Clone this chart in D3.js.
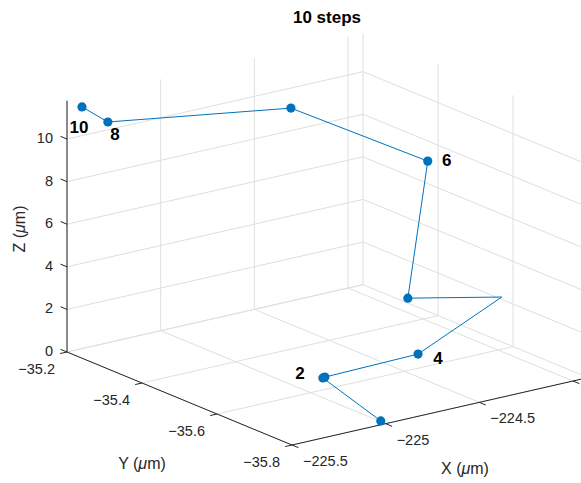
<!DOCTYPE html>
<html>
<head>
<meta charset="utf-8">
<script src="https://cdn.jsdelivr.net/npm/d3@7"></script>
<style>
  body { margin: 0; background: #fff; }
  text { font-family: "Liberation Sans", Arial, Helvetica, sans-serif; }
</style>
</head>
<body>
<svg id="chart" width="581" height="483"></svg>
<script>
// axis ticks
const xTicks = [-225.5, -225, -224.5, -224];
const yTicks = [-35.2, -35.4, -35.6, -35.8];
const zTicks = [0, 2, 4, 6, 8, 10];

// trajectory vertices (um), in drawing order
const pathX = [-224.994, -225.013, -225.016, -224.575, -224.078, -224.233, -224.265, -224.649, -225.448, -225.5];
const pathY = [-35.784, -35.639, -35.646, -35.674, -35.649, -35.476, -35.545, -35.372, -35.283, -35.24];
const pathZ = [0, 1.0, 1.1, 1.5, 3.0, 2.0, 9.0, 11.0, 11.3, 11.8];

// which vertices carry a marker, and which get a step label
const markerIdx = [0, 1, 2, 3, 5, 6, 7, 8, 9];
const stepLabels = ["2", "4", "6", "8", "10"];
const labelIdx = [1, 3, 6, 8, 9];

const titleText = "10 steps";

// --- view setup (orthographic projection, vectors)
const W = 581;
const origin = [67, 352];
const EX = [296, -67.4];
const EY = [225, 93];
const EZ = [0, -251.3];
const labelNudge = { "2": [-23, -4.5], "4": [20, 4], "6": [19, -1], "8": [7, 13], "10": [-3, 21] };

const xS = d3.scaleLinear().domain([-225.5, -223.92]).range([0, 1]);
const yS = d3.scaleLinear().domain([-35.2, -35.8]).range([0, 1]);
const zS = d3.scaleLinear().domain([0, 11.8]).range([0, 1]);
const xMin = xS.domain()[0], xMax = xS.domain()[1];
const yBack = yS.domain()[0], yFront = yS.domain()[1];
const zMin = zS.domain()[0], zMax = zS.domain()[1];

function proj(x, y, z) {
  const a = xS(x), b = yS(y), c = zS(z);
  return [origin[0] + a * EX[0] + b * EY[0] + c * EZ[0],
          origin[1] + a * EX[1] + b * EY[1] + c * EZ[1]];
}
function unit(v) { const l = Math.hypot(v[0], v[1]); return [v[0] / l, v[1] / l]; }

const svg = d3.select("#chart");
const fmt = d3.format("~f");
const gridColor = "#dfdfdf";
const axisColor = "#262626";
const blue = "#0072BD";

// grid segments on the three back planes
const grid = [];
xTicks.forEach(t => {
  grid.push([[t, yBack, zMin], [t, yBack, zMax]]);   // back wall
  grid.push([[t, yBack, zMin], [t, yFront, zMin]]);  // floor
});
yTicks.forEach(t => {
  grid.push([[xMax, t, zMin], [xMax, t, zMax]]);     // right wall
  grid.push([[xMin, t, zMin], [xMax, t, zMin]]);     // floor
});
zTicks.forEach(t => {
  grid.push([[xMin, yBack, t], [xMax, yBack, t]]);
  grid.push([[xMax, yBack, t], [xMax, yFront, t]]);
});

svg.append("g").selectAll("line").data(grid).join("line")
  .attr("x1", d => proj(...d[0])[0]).attr("y1", d => proj(...d[0])[1])
  .attr("x2", d => proj(...d[1])[0]).attr("y2", d => proj(...d[1])[1])
  .attr("stroke", gridColor).attr("stroke-width", 1);

// axis lines
const axes = [
  [[xMin, yFront, zMin], [xMax, yFront, zMin]],
  [[xMin, yBack, zMin], [xMin, yFront, zMin]],
  [[xMin, yBack, zMin], [xMin, yBack, zMax]]
];
svg.append("g").selectAll("line").data(axes).join("line")
  .attr("x1", d => proj(...d[0])[0]).attr("y1", d => proj(...d[0])[1])
  .attr("x2", d => proj(...d[1])[0]).attr("y2", d => proj(...d[1])[1])
  .attr("stroke", axisColor).attr("stroke-width", 1);

// ticks + tick labels
const tickLen = 7;
const dX = unit(EY), dY = unit([-EX[0], -EX[1]]), dZ = unit([-EY[0], -EY[1]]);
const tickG = svg.append("g");
function addTicks(list, toPoint, dir, labeler) {
  list.forEach(t => {
    const p = toPoint(t);
    tickG.append("line")
      .attr("x1", p[0]).attr("y1", p[1])
      .attr("x2", p[0] + dir[0] * tickLen).attr("y2", p[1] + dir[1] * tickLen)
      .attr("stroke", axisColor).attr("stroke-width", 1);
    labeler(t, p);
  });
}
addTicks(xTicks, t => proj(t, yFront, zMin), dX, (t, p) => {
  if (p[0] + 11 > W - 20) return; // label falls outside the figure window
  tickG.append("text").attr("x", p[0] + 11).attr("y", p[1] + 16)
    .attr("dominant-baseline", "central").attr("text-anchor", "start")
    .attr("font-size", "14.5px").attr("fill", axisColor).text(fmt(t));
});
addTicks(yTicks, t => proj(xMin, t, zMin), dY, (t, p) => {
  tickG.append("text").attr("x", p[0] - 12).attr("y", p[1] + 17)
    .attr("dominant-baseline", "central").attr("text-anchor", "end")
    .attr("font-size", "14.5px").attr("fill", axisColor).text(fmt(t));
});
addTicks(zTicks, t => proj(xMin, yBack, t), dZ, (t, p) => {
  tickG.append("text").attr("x", p[0] - 14).attr("y", p[1] - 1)
    .attr("dominant-baseline", "central").attr("text-anchor", "end")
    .attr("font-size", "14.5px").attr("fill", axisColor).text(fmt(t));
});

// axis titles
function axisTitle(g, name) {
  g.append("tspan").text(name + " (");
  g.append("tspan").attr("font-style", "italic").text("\u03BC");
  g.append("tspan").text("m)");
}
axisTitle(svg.append("text").attr("x", 465).attr("y", 468)
  .attr("text-anchor", "middle").attr("dominant-baseline", "central")
  .attr("font-size", "16px").attr("fill", axisColor), "X");
axisTitle(svg.append("text").attr("x", 142).attr("y", 463)
  .attr("text-anchor", "middle").attr("dominant-baseline", "central")
  .attr("font-size", "16px").attr("fill", axisColor), "Y");
axisTitle(svg.append("text").attr("transform", "translate(19,229) rotate(-90)")
  .attr("text-anchor", "middle").attr("dominant-baseline", "central")
  .attr("font-size", "16px").attr("fill", axisColor), "Z");

// title
svg.append("text").attr("x", 327).attr("y", 23)
  .attr("text-anchor", "middle").attr("font-weight", "bold")
  .attr("font-size", "17px").attr("fill", "#000").text(titleText);

// trajectory
const pts = pathX.map((x, i) => proj(x, pathY[i], pathZ[i]));
svg.append("path")
  .attr("d", d3.line()(pts))
  .attr("fill", "none").attr("stroke", blue).attr("stroke-width", 1);

svg.append("g").selectAll("circle").data(markerIdx).join("circle")
  .attr("cx", i => pts[i][0]).attr("cy", i => pts[i][1])
  .attr("r", 4.6).attr("fill", blue);

svg.append("g").selectAll("text").data(stepLabels).join("text")
  .attr("x", (s, k) => pts[labelIdx[k]][0] + labelNudge[s][0])
  .attr("y", (s, k) => pts[labelIdx[k]][1] + labelNudge[s][1])
  .attr("text-anchor", "middle").attr("dominant-baseline", "central")
  .attr("font-weight", "bold").attr("font-size", "17px").attr("fill", "#000")
  .text(s => s);
</script>
</body>
</html>
